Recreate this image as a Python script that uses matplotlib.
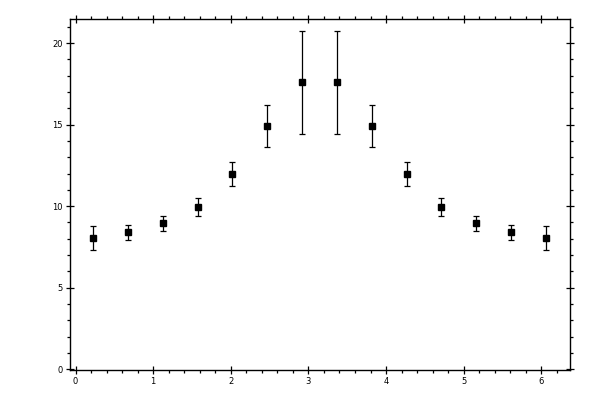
import numpy as np
import matplotlib
matplotlib.use("Agg")
import matplotlib.pyplot as plt
from matplotlib.ticker import MultipleLocator

x_values = [0.224, 0.673, 1.122, 1.571, 2.020, 2.468, 2.917,
            3.366, 3.815, 4.264, 4.712, 5.161, 5.610, 6.059]
y_values = [8.04, 8.40, 8.96, 9.94, 11.96, 14.91, 17.61,
            17.61, 14.91, 11.96, 9.94, 8.96, 8.40, 8.04]
y_errors = [0.73, 0.46, 0.46, 0.55, 0.73, 1.29, 3.16,
            3.16, 1.29, 0.73, 0.55, 0.46, 0.46, 0.73]
x_ticks = [0, 1, 2, 3, 4, 5, 6]
y_ticks = [0, 5, 10, 15, 20]

fig = plt.figure(figsize=(6, 4), dpi=100)
ax = fig.add_axes([0.116, 0.075, 0.8345, 0.877])

ax.errorbar(x_values, y_values, yerr=y_errors, fmt='s', color='black',
            markersize=5, ecolor='black', elinewidth=0.9, capsize=2.3,
            capthick=0.9)

ax.set_xlim(-0.077, 6.374)
ax.set_ylim(-0.05, 21.47)
ax.set_xticks(x_ticks)
ax.set_yticks(y_ticks)
ax.xaxis.set_minor_locator(MultipleLocator(0.2))
ax.yaxis.set_minor_locator(MultipleLocator(1))

for s in ax.spines.values():
    s.set_linewidth(1.0)

ax.tick_params(which='major', direction='inout', length=5.5, width=0.9,
               top=True, right=True, labelsize=6, pad=2)
ax.tick_params(which='minor', direction='out', length=2.4, width=0.9,
               top=True, right=True)

fig.savefig("out.png", dpi=100)
